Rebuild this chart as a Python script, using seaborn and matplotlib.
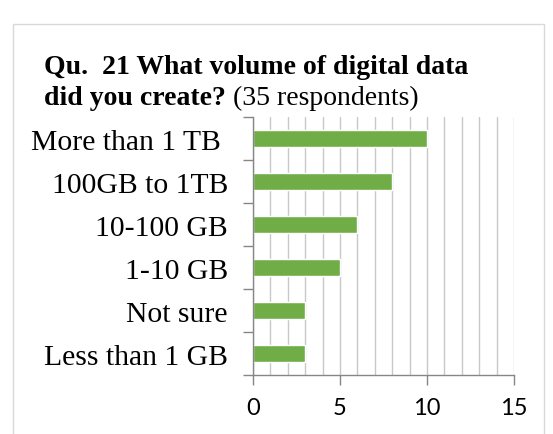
import pandas as pd
import matplotlib.pyplot as plt
import seaborn as sns
from matplotlib.patches import Rectangle
from matplotlib.transforms import IdentityTransform
from matplotlib.ticker import MultipleLocator

# Data
categories = ["More than 1 TB ", "100GB to 1TB", "10-100 GB", "1-10 GB", "Not sure", "Less than 1 GB"]
counts = [10, 8, 6, 5, 3, 3]
x_ticks = [0, 5, 10, 15]

df = pd.DataFrame({"volume": categories, "respondents": counts})

sns.set_style("white")
plt.rcParams["font.family"] = ["Liberation Serif", "DejaVu Serif"]
plt.rcParams["text.color"] = "black"
plt.rcParams["xtick.color"] = "black"
plt.rcParams["ytick.color"] = "black"

fig = plt.figure(figsize=(5.53, 4.35), dpi=100)

# light grey frame around the chart (open at the bottom of the picture)
fig.patches.append(Rectangle((13, -20), 531, 430, transform=IdentityTransform(),
                             fill=False, edgecolor="#d9d9d9", lw=1))

ax = fig.add_axes([0.4575, 0.1356, 0.472, 0.593])
sns.barplot(data=df, x="respondents", y="volume", order=categories, orient="h",
            color="#70AD47", saturation=1, width=0.4, ax=ax)

ax.set_xlim(0, 15)
ax.set_ylim(5.5, -0.5)
ax.set_xticks(x_ticks)
ax.xaxis.set_minor_locator(MultipleLocator(1))
ax.grid(axis="x", which="both", color="#c8c8c8", lw=1)
ax.grid(axis="y", visible=False)
ax.set_axisbelow(True)

for s in ["top", "right"]:
    ax.spines[s].set_visible(False)
for s in ["left", "bottom"]:
    ax.spines[s].set_color("#868686")
    ax.spines[s].set_linewidth(1)

ax.set_yticks(range(len(categories)))
ax.set_yticks([i - 0.5 for i in range(len(categories) + 1)], minor=True)
ax.tick_params(axis="y", which="major", length=0, pad=18, labelsize=21.3, labelcolor="black")
ax.tick_params(axis="y", which="minor", left=True, length=7, color="#868686", width=1)
ax.tick_params(axis="x", which="major", bottom=True, length=7, color="#868686", width=1,
               labelsize=17, pad=9, labelcolor="black")
ax.tick_params(axis="x", which="minor", length=0)
for lab in ax.get_xticklabels():
    lab.set_fontfamily("Lato")
ax.set_xlabel("")
ax.set_ylabel("")

# title
fig.text(44 / 553, 1 - 74 / 435, "Qu.  21 What volume of digital data",
         fontsize=20, fontweight="bold", va="baseline", color="black")
t2 = fig.text(44 / 553, 1 - 105 / 435, "did you create?",
              fontsize=20, fontweight="bold", va="baseline", color="black")
ax.annotate(" (35 respondents)", xy=(1, 435 - 105), xycoords=(t2, "figure pixels"),
            fontsize=20, va="baseline", ha="left", annotation_clip=False, color="black")

fig.savefig("out.png", dpi=100)
